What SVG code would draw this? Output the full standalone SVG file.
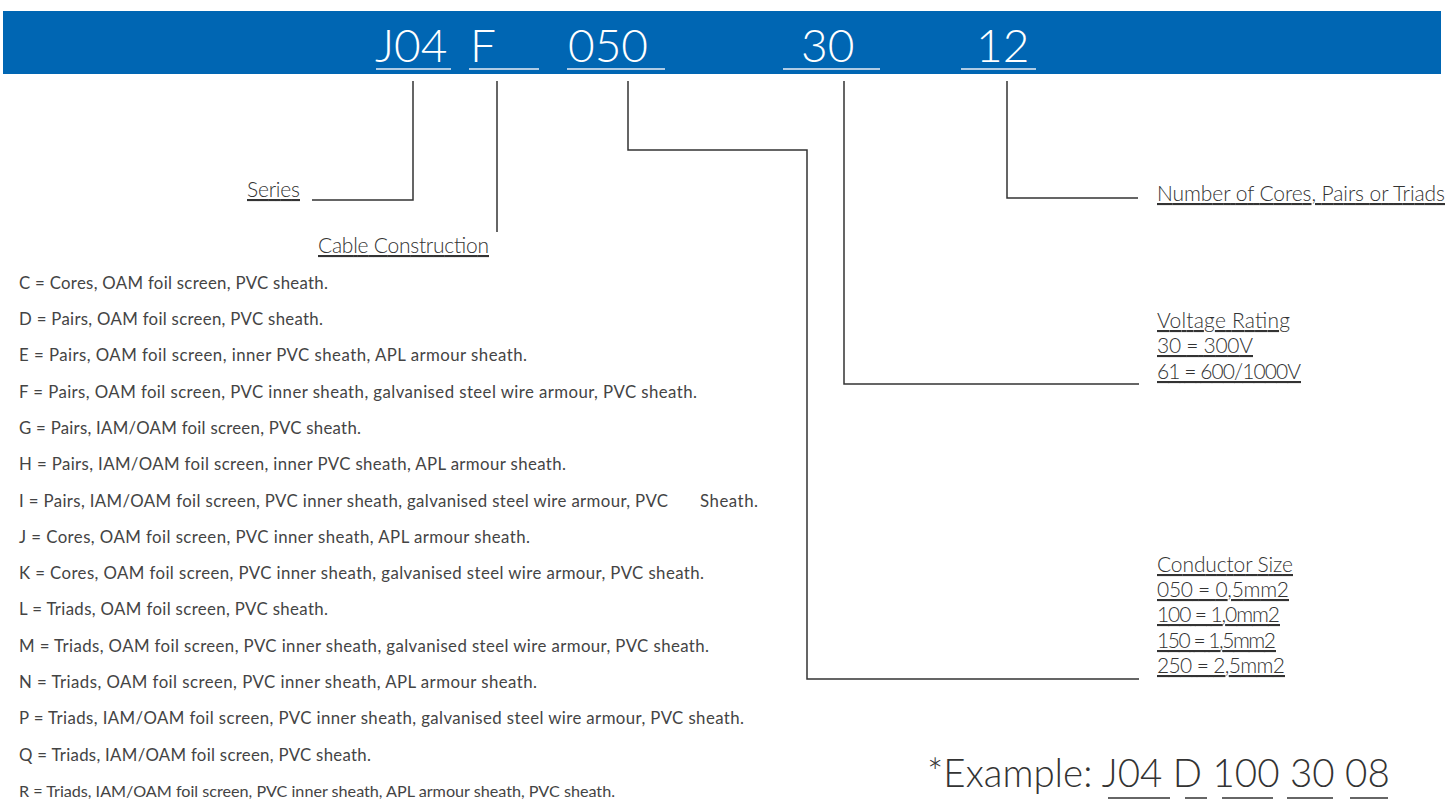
<svg xmlns="http://www.w3.org/2000/svg" width="1448" height="801" viewBox="0 0 1448 801">
<style>
.code{font-family:"Lato","Open Sans",sans-serif;font-weight:300;font-size:46px;fill:#ffffff}
.lbl{font-family:"Lato","Open Sans",sans-serif;font-weight:300;font-size:21px;fill:#333;text-decoration:underline}
.item{font-family:"Lato","Open Sans",sans-serif;font-size:16.8px;fill:#444}
.ex{font-family:"Lato","Open Sans",sans-serif;font-weight:300;font-size:38.5px;fill:#333}
.conn{fill:none;stroke:#333;stroke-width:1.5}
.wl{stroke:#e8eef6;stroke-width:1.5}
.el{stroke:#333;stroke-width:1.5}
</style>
<g id="banner">
<rect x="3" y="11" width="1438" height="63" fill="#0066b3"/>
<text class="code" x="375" y="62">J04</text>
<text class="code" x="470" y="62">F</text>
<text class="code" x="568" y="62">050</text>
<text class="code" x="801" y="62">30</text>
<text class="code" x="976" y="62">12</text>
<line class="wl" x1="376" y1="69" x2="451" y2="69"/>
<line class="wl" x1="469" y1="69" x2="539" y2="69"/>
<line class="wl" x1="567" y1="69" x2="665" y2="69"/>
<line class="wl" x1="783" y1="69" x2="880" y2="69"/>
<line class="wl" x1="961" y1="69" x2="1036" y2="69"/>
</g>
<g id="connectors">
<polyline class="conn" points="413,81 413,200 312,200"/>
<polyline class="conn" points="497,81 497,232"/>
<polyline class="conn" points="628,81 628,150 807,150 807,679 1139,679"/>
<polyline class="conn" points="844,81 844,384 1139,384"/>
<polyline class="conn" points="1007,81 1007,198 1138,198"/>
</g>
<g id="series"><text class="lbl" x="247" y="197" textLength="53">Series</text></g>
<g id="cable-construction">
<text class="lbl" x="318" y="253" textLength="171">Cable Construction</text>
<text class="item" x="19" y="289" textLength="309">C = Cores, OAM foil screen, PVC sheath.</text>
<text class="item" x="19" y="325" textLength="304">D = Pairs, OAM foil screen, PVC sheath.</text>
<text class="item" x="19" y="361" textLength="508">E = Pairs, OAM foil screen, inner PVC sheath, APL armour sheath.</text>
<text class="item" x="19" y="398" textLength="678">F = Pairs, OAM foil screen, PVC inner sheath, galvanised steel wire armour, PVC sheath.</text>
<text class="item" x="19" y="434" textLength="342">G = Pairs, IAM/OAM foil screen, PVC sheath.</text>
<text class="item" x="19" y="470" textLength="547">H = Pairs, IAM/OAM foil screen, inner PVC sheath, APL armour sheath.</text>
<text class="item" x="19" y="507" textLength="649">I = Pairs, IAM/OAM foil screen, PVC inner sheath, galvanised steel wire armour, PVC</text>
<text class="item" x="700" y="507" textLength="58">Sheath.</text>
<text class="item" x="19" y="543" textLength="511">J = Cores, OAM foil screen, PVC inner sheath, APL armour sheath.</text>
<text class="item" x="19" y="579" textLength="685">K = Cores, OAM foil screen, PVC inner sheath, galvanised steel wire armour, PVC sheath.</text>
<text class="item" x="19" y="615" textLength="309">L = Triads, OAM foil screen, PVC sheath.</text>
<text class="item" x="19" y="652" textLength="690">M = Triads, OAM foil screen, PVC inner sheath, galvanised steel wire armour, PVC sheath.</text>
<text class="item" x="19" y="688" textLength="518">N = Triads, OAM foil screen, PVC inner sheath, APL armour sheath.</text>
<text class="item" x="19" y="724" textLength="725">P = Triads, IAM/OAM foil screen, PVC inner sheath, galvanised steel wire armour, PVC sheath.</text>
<text class="item" x="19" y="761" textLength="352">Q = Triads, IAM/OAM foil screen, PVC sheath.</text>
<text class="item" x="19" y="797" style="font-size:16.2px" textLength="596">R = Triads, IAM/OAM foil screen, PVC inner sheath, APL armour sheath, PVC sheath.</text>
</g>
<g id="number-of-cores"><text class="lbl" x="1157" y="201" textLength="288">Number of Cores, Pairs or Triads</text></g>
<g id="voltage-rating">
<text class="lbl" x="1157" y="328" textLength="133">Voltage Rating</text>
<text class="lbl" x="1157" y="353" textLength="96">30 = 300V</text>
<text class="lbl" x="1157" y="379" textLength="144">61 = 600/1000V</text>
</g>
<g id="conductor-size">
<text class="lbl" x="1157" y="572" textLength="136">Conductor Size</text>
<text class="lbl" x="1157" y="597" textLength="132">050 = 0,5mm2</text>
<text class="lbl" x="1157" y="622" textLength="123">100 = 1,0mm2</text>
<text class="lbl" x="1157" y="648" textLength="119">150 = 1,5mm2</text>
<text class="lbl" x="1157" y="673" textLength="128">250 = 2,5mm2</text>
</g>
<g id="example">
<text class="ex" x="927" y="787">*Example: J04 D 100 30 08</text>
<line class="el" x1="1108" y1="798" x2="1170" y2="798"/>
<line class="el" x1="1185" y1="798" x2="1207" y2="798"/>
<line class="el" x1="1222" y1="798" x2="1273" y2="798"/>
<line class="el" x1="1287" y1="798" x2="1333" y2="798"/>
<line class="el" x1="1350" y1="798" x2="1388" y2="798"/>
</g>
</svg>
